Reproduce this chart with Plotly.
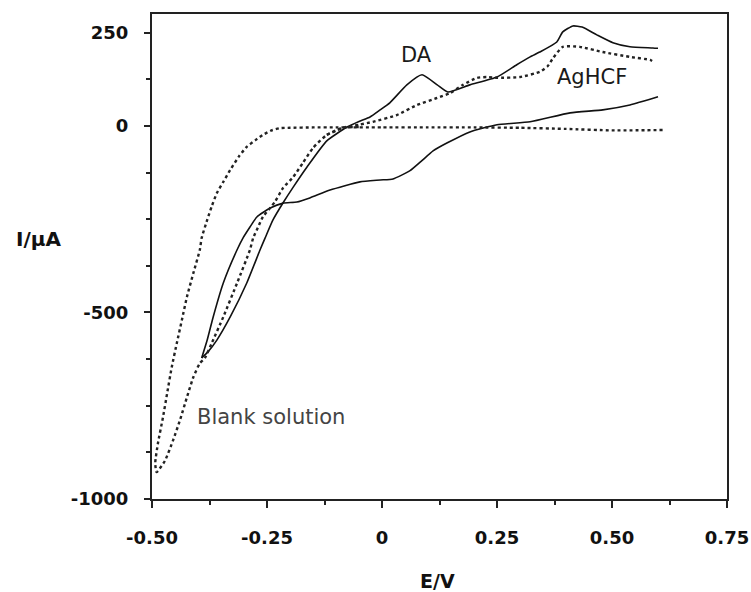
import plotly.graph_objects as go

# ---- Data ----
# DA (solid) cyclic voltammogram: anodic (upper) branch
da_up_E = [-0.392, -0.378, -0.359, -0.33, -0.294, -0.265, -0.254, -0.237, -0.215, -0.193,
           -0.163, -0.12, -0.076, -0.05, -0.026, -0.004, 0.017, 0.054, 0.087, 0.12,
           0.143, 0.191, 0.25, 0.293, 0.322, 0.343, 0.38, 0.393, 0.415, 0.435,
           0.467, 0.502, 0.539, 0.589, 0.60]
da_up_I = [-622, -605, -574, -512, -421, -332, -300, -252, -206, -164,
           -110, -40, -3, 12, 24, 43, 62, 110, 137, 110,
           91, 110, 131, 164, 185, 198, 225, 252, 268, 265,
           244, 223, 212, 209, 208]
# DA (solid): cathodic (lower) branch
da_lo_E = [0.60, 0.539, 0.48, 0.409, 0.322, 0.25, 0.191, 0.141, 0.111, 0.085,
           0.061, 0.024, -0.004, -0.048, -0.113, -0.157, -0.185, -0.215, -0.243, -0.272,
           -0.287, -0.302, -0.315, -0.345, -0.367, -0.38, -0.392]
da_lo_I = [78, 56, 43, 35, 11, 3, -16, -46, -67, -95,
           -120, -142, -145, -150, -172, -193, -204, -207, -220, -244,
           -271, -300, -332, -421, -512, -574, -622]

# AgHCF (dotted)
ag_E = [-0.12, -0.085, -0.05, -0.02, 0.032, 0.076, 0.12, 0.148, 0.176, 0.207,
        0.23, 0.25, 0.30, 0.343, 0.36, 0.372, 0.393, 0.43, 0.48, 0.539, 0.583, 0.59]
ag_I = [-24, -5, 3, 11, 29, 56, 75, 88, 110, 129,
        131, 129, 131, 145, 160, 182, 212, 212, 198, 185, 177, 172]

# Blank solution (dotted)
bl_E = [0.61, 0.5, 0.4, 0.3, 0.2, 0.1, 0.0, -0.1, -0.15, -0.2,
        -0.222, -0.24, -0.259, -0.275, -0.294, -0.31, -0.33, -0.345, -0.359, -0.37,
        -0.38, -0.392, -0.396, -0.41, -0.424, -0.435, -0.446, -0.457, -0.467, -0.476,
        -0.487, -0.493, -0.49, -0.472, -0.454, -0.439, -0.424, -0.41, -0.396, -0.385,
        -0.37, -0.345, -0.315, -0.287, -0.28, -0.27, -0.259, -0.233, -0.215, -0.193,
        -0.172, -0.15, -0.12, -0.085, -0.05]
bl_I = [-11, -12, -8, -5, -4, -4, -4, -4, -4, -5,
        -6, -12, -24, -38, -56, -80, -118, -150, -180, -215,
        -252, -300, -332, -394, -458, -520, -582, -646, -716, -780,
        -850, -904, -928, -898, -842, -788, -727, -673, -636, -622,
        -582, -512, -421, -332, -300, -273, -244, -204, -166, -137,
        -99, -59, -24, -5, -3]

y_tickvals = [-1000, -500, 0, 250]
y_ticktext = ["-1000", "-500", "0", "250"]
x_tickvals = [-0.5, -0.25, 0, 0.25, 0.5, 0.75]
x_ticktext = ["-0.50", "-0.25", "0", "0.25", "0.50", "0.75"]

labels = [
    dict(text="DA", x=0.076, y=190, xanchor="center"),
    dict(text="AgHCF", x=0.457, y=131, xanchor="center"),
    dict(text="Blank solution", x=-0.407, y=-780, xanchor="left"),
]

fig = go.Figure()
solid = dict(color="#111111", width=1.6, shape="spline", smoothing=0.5)
dotted = dict(color="#222222", width=2.4, dash="dot", shape="spline", smoothing=0.5)

fig.add_trace(go.Scatter(x=da_up_E, y=da_up_I, mode="lines", line=solid, showlegend=False))
fig.add_trace(go.Scatter(x=da_lo_E, y=da_lo_I, mode="lines", line=solid, showlegend=False))
fig.add_trace(go.Scatter(x=ag_E, y=ag_I, mode="lines", line=dotted, showlegend=False))
fig.add_trace(go.Scatter(x=bl_E, y=bl_I, mode="lines", line=dotted, showlegend=False))

for lab in labels:
    fig.add_annotation(x=lab["x"], y=lab["y"], text=lab["text"], showarrow=False,
                       xanchor=lab["xanchor"], yanchor="middle",
                       font=dict(family="DejaVu Sans", size=21,
                                 color="#444444" if lab["text"].startswith("Blank") else "#1a1a1a"))

fig.add_annotation(xref="paper", yref="paper", x=-0.198, y=0.536, text="I/μA",
                   showarrow=False, xanchor="center", yanchor="middle",
                   font=dict(family="DejaVu Sans", size=20, color="#111", weight="bold"))
fig.add_annotation(xref="paper", yref="paper", x=0.497, y=-0.142, text="E/V",
                   showarrow=False, xanchor="center", yanchor="top",
                   font=dict(family="DejaVu Sans", size=19, color="#111", weight="bold"))

tickfont = dict(family="DejaVu Sans", size=18, color="#111", weight="bold")
fig.update_xaxes(range=[-0.5, 0.75], tickmode="array", tickvals=x_tickvals, ticktext=x_ticktext,
                 ticks="outside", ticklen=7, tickwidth=2, tickcolor="#222",
                 minor=dict(dtick=0.125, tick0=0, ticks="outside", ticklen=4, tickwidth=1.5, tickcolor="#222"),
                 showline=True, linewidth=2, linecolor="#222", mirror=True, automargin=False,
                 showgrid=False, zeroline=False, tickfont=tickfont, ticklabelstandoff=14)
fig.update_yaxes(range=[-1000, 300], tickmode="array", tickvals=y_tickvals, ticktext=y_ticktext,
                 ticks="outside", ticklen=6, tickwidth=2, tickcolor="#222",
                 minor=dict(dtick=125, tick0=0, ticks="outside", ticklen=4, tickwidth=1.5, tickcolor="#222"),
                 showline=True, linewidth=2, linecolor="#222", mirror=True, automargin=False,
                 showgrid=False, zeroline=False, tickfont=tickfont, ticklabelstandoff=12)

fig.update_layout(width=751, height=592, margin=dict(l=152, r=24, t=14, b=93, autoexpand=False),
                  plot_bgcolor="white", paper_bgcolor="white")

# remove the default page margin so the figure fills the 751x592 window exactly
fig.write_html("out.html", config={"displayModeBar": False},
               post_script="document.body.style.margin='0';document.documentElement.style.overflow='hidden';")
